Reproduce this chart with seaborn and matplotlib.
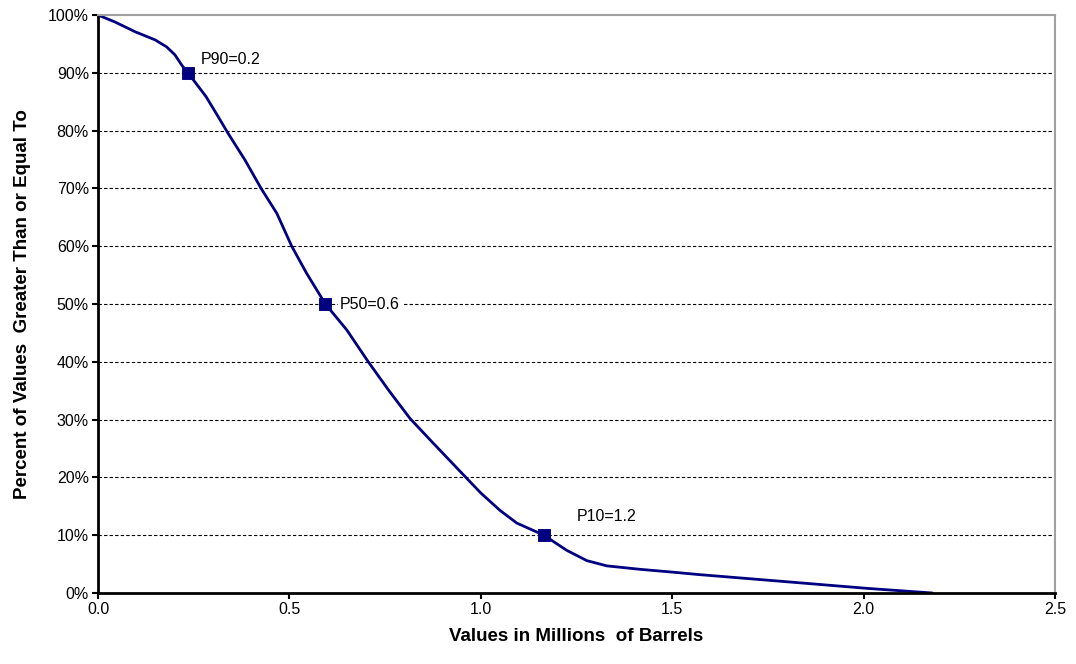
import numpy as np
import pandas as pd
import matplotlib.pyplot as plt
import matplotlib.ticker as mtick
import seaborn as sns

# curva de probabilidade de excedência
valores = [0.0, 0.044, 0.097, 0.149, 0.179, 0.201, 0.219, 0.235, 0.282, 0.314,
           0.340, 0.384, 0.426, 0.467, 0.506, 0.545, 0.594, 0.650, 0.706, 0.759,
           0.815, 0.876, 0.961, 1.00, 1.05, 1.094, 1.165, 1.224, 1.277, 1.329,
           1.416, 1.503, 1.568, 1.79, 2.01, 2.18]
percentual = [100, 98.8, 97.1, 95.7, 94.5, 93.1, 91.3, 90, 85.9, 82.4,
              79.5, 74.9, 70.0, 65.7, 60.0, 55.3, 50, 45.5, 40.0, 35.1,
              30.2, 25.9, 20.0, 17.3, 14.3, 12.1, 10, 7.4, 5.6, 4.7,
              4.1, 3.6, 3.2, 2.0, 0.8, 0]

# pontos P90 / P50 / P10
p_nomes = ['P90=0.2', 'P50=0.6', 'P10=1.2']
p_valores = [0.235, 0.594, 1.165]
p_percent = [90, 50, 10]

df = pd.DataFrame({'valor': valores, 'pct': percentual})
dp = pd.DataFrame({'valor': p_valores, 'pct': p_percent, 'nome': p_nomes})

sns.set_style('white')
plt.rcParams['font.family'] = ['Liberation Sans', 'DejaVu Sans']
plt.rcParams['text.color'] = 'black'
plt.rcParams['axes.labelcolor'] = 'black'

fig = plt.figure(figsize=(10.76, 6.64), dpi=100)
ax = fig.add_axes([0.0911, 0.1069, 0.8894, 0.8705])

# linhas de grade tracejadas
for g in range(10, 100, 10):
    ax.axhline(g, color='black', lw=0.8, ls=(0, (3, 2)), zorder=0)

sns.lineplot(data=df, x='valor', y='pct', sort=False, color='#000080', lw=2, ax=ax, zorder=2)
sns.scatterplot(data=dp, x='valor', y='pct', marker='s', s=65, color='#000080',
                edgecolor='#000080', ax=ax, zorder=3)

# rótulos dos pontos
ax.text(0.269, 92.3, p_nomes[0], fontsize=11.5, va='center', ha='left')
ax.text(0.632, 50, p_nomes[1], fontsize=11.5, va='center', ha='left',
        bbox=dict(facecolor='white', edgecolor='none', pad=1.5))
ax.text(1.251, 13.3, p_nomes[2], fontsize=11.5, va='center', ha='left')

ax.set_xlim(0, 2.5)
ax.set_ylim(0, 100)
ax.set_xticks(np.arange(0, 2.51, 0.5))
ax.set_yticks(range(0, 101, 10))
ax.xaxis.set_major_formatter(mtick.FormatStrFormatter('%.1f'))
ax.yaxis.set_major_formatter(mtick.PercentFormatter(decimals=0))
ax.tick_params(axis='both', direction='out', length=4, width=1.5, labelsize=11.5,
               colors='black', left=True, bottom=True, pad=2.5)

for s in ['left', 'bottom']:
    ax.spines[s].set_color('black')
    ax.spines[s].set_linewidth(2)
for s in ['top', 'right']:
    ax.spines[s].set_color('#a0a0a0')
    ax.spines[s].set_linewidth(1.5)

ax.set_xlabel('Values in Millions  of Barrels', fontsize=13.5, fontweight='bold',
              labelpad=8)
ax.set_ylabel('Percent of Values  Greater Than or Equal To', fontsize=13.5,
              fontweight='bold', labelpad=12)

fig.savefig('out.png', dpi=100)
